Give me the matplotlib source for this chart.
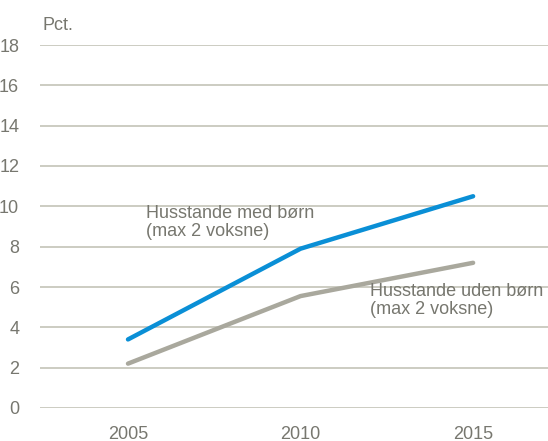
import matplotlib.pyplot as plt
from matplotlib import font_manager

years = [2005, 2010, 2015]
med_boern = [3.4, 7.9, 10.5]
uden_boern = [2.2, 5.55, 7.2]
yticks = [0, 2, 4, 6, 8, 10, 12, 14, 16, 18]

names = {f.name for f in font_manager.fontManager.ttflist}
fam = 'Liberation Sans Narrow' if 'Liberation Sans Narrow' in names else 'Liberation Sans'
plt.rcParams['font.family'] = [fam, 'DejaVu Sans']

txt = '#77776f'
grid = '#c4c3b8'

fig = plt.figure(figsize=(5.48, 4.41), dpi=100)
ax = fig.add_axes([40 / 548, 33 / 441, 508 / 548, 363 / 441])

for y in yticks:
    ax.axhline(y, color=grid, lw=1.2, zorder=1)

ax.plot(years, med_boern, color='#0a8fd6', lw=3.2, solid_capstyle='round', zorder=3)
ax.plot(years, uden_boern, color='#a9a89d', lw=3.2, solid_capstyle='round', zorder=3)

ax.text(2005.52, 10.05, 'Husstande med børn\n(max 2 voksne)', color=txt, fontsize=13,
        va='top', ha='left', linespacing=1.05)
ax.text(2012.0, 6.2, 'Husstande uden børn\n(max 2 voksne)', color=txt, fontsize=13,
        va='top', ha='left', linespacing=1.05)

ax.set_xlim(2002.45, 2017.17)
ax.set_ylim(0, 18)
ax.set_xticks(years)
ax.set_yticks(yticks)
ax.tick_params(length=0, labelsize=13, labelcolor=txt)
ax.tick_params(axis='y', pad=15)
ax.tick_params(axis='x', pad=13)
for s in ax.spines.values():
    s.set_visible(False)

fig.text(43 / 548, 1 - 26 / 441, 'Pct.', color=txt, fontsize=13, va='center', ha='left')

fig.savefig('out.png', dpi=100)
